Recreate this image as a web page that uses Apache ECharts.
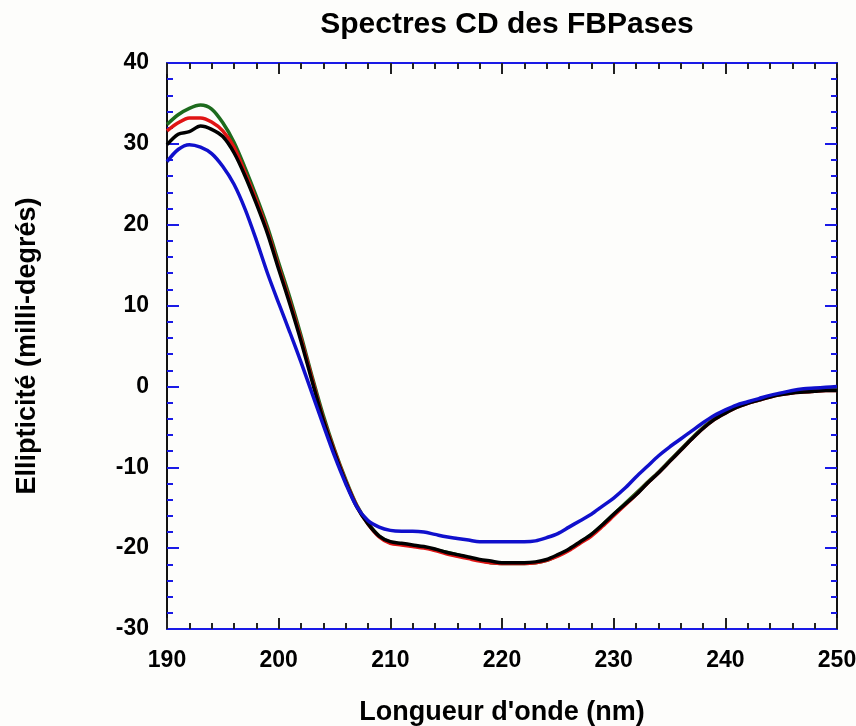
<!DOCTYPE html>
<html>
<head>
<meta charset="utf-8">
<script src="https://cdn.jsdelivr.net/npm/echarts@6/dist/echarts.min.js"></script>
<style>html,body{margin:0;padding:0;background:#fdfdfb;overflow:hidden;}#c{width:856px;height:726px;}</style>
</head>
<body>
<div id="c"></div>
<script>
const titleText = "Spectres CD des FBPases";
const xName = "Longueur d'onde (nm)";
const yName = "Ellipticité (milli-degrés)";
const wavelengths = [190,191,192,193,194,195,196,197,198,199,200,201,202,203,204,205,206,207,208,209,210,211,212,213,214,215,216,217,218,219,220,221,222,223,224,225,226,227,228,229,230,231,232,233,234,235,236,237,238,239,240,241,242,243,244,245,246,247,248,249,250];
const greenVals = [32.4,33.6,34.4,34.8,34.3,32.6,30.2,27.0,23.5,19.7,15.3,11.0,6.3,1.2,-3.6,-7.8,-11.5,-14.7,-16.9,-18.5,-19.3,-19.5,-19.7,-19.9,-20.2,-20.5,-20.8,-21.2,-21.5,-21.8,-21.9,-21.9,-21.9,-21.8,-21.5,-20.9,-20.2,-19.3,-18.3,-17.1,-15.8,-14.5,-13.2,-11.9,-10.6,-9.2,-7.8,-6.4,-5.1,-4.0,-3.2,-2.5,-2.0,-1.6,-1.2,-0.9,-0.7,-0.6,-0.5,-0.4,-0.4];
const redVals = [31.6,32.6,33.2,33.2,32.7,31.6,29.6,26.4,23.0,19.2,14.8,10.5,5.9,0.9,-4.0,-8.0,-11.7,-14.8,-17.0,-18.6,-19.4,-19.6,-19.8,-20.0,-20.3,-20.7,-21.0,-21.3,-21.6,-21.8,-21.9,-21.9,-21.9,-21.8,-21.5,-21.0,-20.3,-19.4,-18.5,-17.3,-16.0,-14.7,-13.4,-12.0,-10.7,-9.3,-7.9,-6.5,-5.2,-4.1,-3.3,-2.6,-2.1,-1.7,-1.3,-1.0,-0.8,-0.7,-0.6,-0.5,-0.5];
const blackVals = [29.9,31.2,31.5,32.2,31.8,30.9,28.9,26.0,22.6,18.9,14.5,10.2,5.6,0.6,-4.2,-8.2,-11.8,-14.9,-17.0,-18.5,-19.2,-19.4,-19.6,-19.8,-20.1,-20.5,-20.8,-21.1,-21.4,-21.6,-21.8,-21.8,-21.8,-21.7,-21.4,-20.8,-20.1,-19.2,-18.3,-17.1,-15.8,-14.6,-13.4,-12.0,-10.7,-9.3,-7.9,-6.5,-5.2,-4.1,-3.3,-2.6,-2.1,-1.7,-1.3,-1.0,-0.8,-0.7,-0.6,-0.5,-0.5];
const blueVals = [27.8,29.3,29.9,29.6,28.8,27.2,25.0,21.9,18.1,14.0,10.3,6.7,3.0,-0.9,-4.8,-8.6,-12.0,-14.9,-16.6,-17.4,-17.8,-17.9,-17.9,-18.0,-18.3,-18.6,-18.8,-19.0,-19.2,-19.2,-19.2,-19.2,-19.2,-19.1,-18.7,-18.2,-17.4,-16.6,-15.8,-14.8,-13.8,-12.6,-11.2,-9.9,-8.6,-7.5,-6.5,-5.5,-4.5,-3.6,-2.9,-2.3,-1.9,-1.5,-1.1,-0.8,-0.5,-0.3,-0.2,-0.1,0.0];

const seriesDefs = [
  {name:'green', color:'#1d6b1d', vals: greenVals},
  {name:'red', color:'#e01414', vals: redVals},
  {name:'black', color:'#000000', vals: blackVals},
  {name:'blue', color:'#1010cc', vals: blueVals}
];

const font = '"Liberation Sans", Arial, Helvetica, sans-serif';
const chart = echarts.init(document.getElementById('c'));
function xAx(pos, showLabel){
  return {
    type:'value', min:190, max:250, interval:10, position:pos,
    name: pos==='bottom'? xName : '', nameLocation:'middle', nameGap:70,
    nameTextStyle:{fontFamily:font, fontWeight:'bold', fontSize:27, color:'#000'},
    axisLine:{show:true, onZero:false, lineStyle:{color:'#1a1ae6', width:2}},
    axisTick:{show:true, inside:true, length:11, lineStyle:{color:'#222', width:2}},
    minorTick:{show:true, splitNumber:5, length:6, lineStyle:{color:'#222', width:2}},
    axisLabel:{show:showLabel, fontFamily:font, fontWeight:'bold', fontSize:23, color:'#000', margin:20},
    splitLine:{show:false}
  };
}
function yAx(pos, showLabel){
  return {
    type:'value', min:-30, max:40, interval:10, position:pos,
    name: pos==='left'? yName : '', nameLocation:'middle', nameGap:126, nameRotate:90,
    nameTextStyle:{fontFamily:font, fontWeight:'bold', fontSize:27, color:'#000'},
    axisLine:{show:true, onZero:false, lineStyle:{color:'#111', width:2}},
    axisTick:{show:true, inside:true, length:12, lineStyle:{color:'#1a1ae6', width:2}},
    minorTick:{show:true, splitNumber:5, length:6, lineStyle:{color:'#1a1ae6', width:2}},
    axisLabel:{show:showLabel, fontFamily:font, fontWeight:'bold', fontSize:23, color:'#000', margin:18},
    splitLine:{show:false}
  };
}
chart.setOption({
  backgroundColor:'#fdfdfb',
  animation:false,
  title:{text:titleText, left:502, top:5, textAlign:'center',
    textStyle:{fontFamily:font, fontWeight:'bold', fontSize:30, color:'#000'}},
  grid:{left:167, right:19, top:63, bottom:97, containLabel:false, outerBoundsMode:'none'},
  xAxis:[xAx('bottom', true), xAx('top', false)],
  yAxis:[yAx('left', true), yAx('right', false)],
  series: seriesDefs.map(s => ({
    name:s.name, type:'line', xAxisIndex:0, yAxisIndex:0,
    data: wavelengths.map((w,i)=>[w, s.vals[i]]),
    smooth:0.3, showSymbol:false, symbol:'none',
    lineStyle:{color:s.color, width:3.5}
  }))
});
</script>
</body>
</html>
